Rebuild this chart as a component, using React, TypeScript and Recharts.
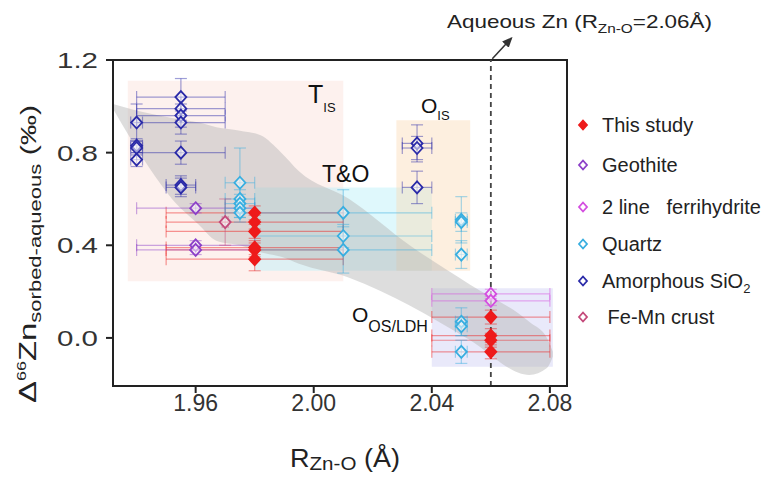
import {
  Area,
  ComposedChart,
  ErrorBar,
  ReferenceArea,
  ReferenceLine,
  Scatter,
  XAxis,
  YAxis,
} from "recharts";

const xTicks = [1.96, 2.0, 2.04, 2.08];
const yTicks = [0, 0.4, 0.8, 1.2];
const xDomain = [1.932, 2.0858];
const yDomain = [-0.2076, 1.2];

// points with x / y error half-widths
const thisStudy = [
  { x: 1.98, y: 0.54, ex: 0.03, ey: 0.03 },
  { x: 1.98, y: 0.5, ex: 0.03, ey: 0.03 },
  { x: 1.98, y: 0.46, ex: 0.03, ey: 0.03 },
  { x: 1.98, y: 0.39, ex: 0.03, ey: 0.03 },
  { x: 1.98, y: 0.38, ex: 0.03, ey: 0.03 },
  { x: 1.98, y: 0.34, ex: 0.03, ey: 0.05 },
  { x: 2.06, y: 0.09, ex: 0.02, ey: 0.03 },
  { x: 2.06, y: 0.01, ex: 0.02, ey: 0.03 },
  { x: 2.06, y: -0.01, ex: 0.02, ey: 0.03 },
  { x: 2.06, y: -0.06, ex: 0.02, ey: 0.03 },
];
const geothite = [
  { x: 1.96, y: 0.56, ex: 0.02, ey: 0.02 },
  { x: 1.96, y: 0.4, ex: 0.02, ey: 0.02 },
  { x: 1.96, y: 0.38, ex: 0.02, ey: 0.02 },
];
const ferrihydrite = [
  { x: 2.06, y: 0.19, ex: 0.02, ey: 0.02 },
  { x: 2.06, y: 0.16, ex: 0.02, ey: 0.02 },
];
const quartz = [
  { x: 1.975, y: 0.67, ex: 0.005, ey: 0.15 },
  { x: 1.975, y: 0.6, ex: 0.005, ey: 0.04 },
  { x: 1.975, y: 0.58, ex: 0.005, ey: 0.04 },
  { x: 1.975, y: 0.56, ex: 0.005, ey: 0.04 },
  { x: 1.975, y: 0.54, ex: 0.005, ey: 0.04 },
  { x: 2.01, y: 0.54, ex: 0.03, ey: 0.1 },
  { x: 2.01, y: 0.44, ex: 0.03, ey: 0.05 },
  { x: 2.01, y: 0.38, ex: 0.03, ey: 0.1 },
  { x: 2.05, y: 0.51, ex: 0.002, ey: 0.1 },
  { x: 2.05, y: 0.5, ex: 0.002, ey: 0.04 },
  { x: 2.05, y: 0.36, ex: 0.002, ey: 0.06 },
  { x: 2.05, y: 0.07, ex: 0.002, ey: 0.06 },
  { x: 2.05, y: 0.05, ex: 0.002, ey: 0.04 },
  { x: 2.05, y: -0.06, ex: 0.002, ey: 0.05 },
];
const amorphousSiO2 = [
  { x: 1.94, y: 0.93, ex: 0.002, ey: 0.08 },
  { x: 1.94, y: 0.83, ex: 0.002, ey: 0.03 },
  { x: 1.94, y: 0.82, ex: 0.002, ey: 0.03 },
  { x: 1.94, y: 0.77, ex: 0.002, ey: 0.03 },
  { x: 1.955, y: 1.04, ex: 0.015, ey: 0.08 },
  { x: 1.955, y: 0.99, ex: 0.015, ey: 0.05 },
  { x: 1.955, y: 0.96, ex: 0.015, ey: 0.05 },
  { x: 1.955, y: 0.93, ex: 0.015, ey: 0.05 },
  { x: 1.955, y: 0.8, ex: 0.015, ey: 0.05 },
  { x: 1.955, y: 0.66, ex: 0.005, ey: 0.04 },
  { x: 1.955, y: 0.65, ex: 0.005, ey: 0.04 },
  { x: 2.035, y: 0.84, ex: 0.005, ey: 0.08 },
  { x: 2.035, y: 0.82, ex: 0.005, ey: 0.05 },
  { x: 2.035, y: 0.65, ex: 0.005, ey: 0.07 },
];
const feMnCrust = [{ x: 1.97, y: 0.5, ex: 0.001, ey: 0.1 }];

// grey trend band: x, lower edge, upper edge
const bandX = [1.932, 1.944, 1.952, 1.961, 1.967, 1.975, 1.982, 1.989, 1.995, 2.012, 2.0325, 2.053, 2.073, 2.079, 2.081];
const bandLow = [0.99, 0.74, 0.6, 0.49, 0.42, 0.4, 0.37, 0.35, 0.32, 0.26, 0.14, -0.01, -0.16, -0.13, -0.08];
const bandHigh = [1.01, 0.97, 0.95, 0.93, 0.91, 0.895, 0.875, 0.8, 0.72, 0.6, 0.4, 0.23, 0.07, 0.0, -0.06];
const bandData = bandX.map((x, i) => ({ x, band: [bandLow[i], bandHigh[i]] }));

const regions = [
  { id: "tis", x1: 1.937, x2: 2.01, y1: 0.245, y2: 1.11, fill: "#f8cfc8", opacity: 0.3 },
  { id: "to", x1: 1.98, x2: 2.04, y1: 0.29, y2: 0.65, fill: "#b8f0f8", opacity: 0.45 },
  { id: "ois", x1: 2.028, x2: 2.053, y1: 0.29, y2: 0.94, fill: "#fbd8b0", opacity: 0.4 },
  { id: "oos", x1: 2.04, x2: 2.081, y1: -0.125, y2: 0.215, fill: "#d4d4f6", opacity: 0.5 },
];

const series = [
  { name: "This study", data: thisStudy, color: "#ee1b1b", filled: true },
  { name: "Geothite", data: geothite, color: "#8c40c8", filled: false },
  { name: "2 line   ferrihydrite", data: ferrihydrite, color: "#d44ee0", filled: false },
  { name: "Quartz", data: quartz, color: "#38aee0", filled: false },
  { name: "Amorphous SiO", data: amorphousSiO2, color: "#2a2aa8", filled: false },
  { name: " Fe-Mn crust", data: feMnCrust, color: "#c4497a", filled: false },
];
const legendY = [125, 165, 207, 244, 281, 317];

function Diamond({ cx, cy, color, filled, w = 5.5, h = 6 }: any) {
  if (cx == null || cy == null) return null;
  const d = `M${cx},${cy - h} L${cx + w},${cy} L${cx},${cy + h} L${cx - w},${cy} Z`;
  return (
    <path
      d={d}
      fill={filled ? color : "#ffffff"}
      fillOpacity={filled ? 1 : 0.55}
      stroke={color}
      strokeWidth={1.8}
    />
  );
}

function YTick({ x, y, payload }: any) {
  return (
    <text
      x={x - 6}
      y={y}
      dy={8}
      textAnchor="end"
      fontSize={22}
      fill="#333"
      textLength={41}
      lengthAdjust="spacingAndGlyphs"
    >
      {Number(payload.value).toFixed(1)}
    </text>
  );
}

const font = "'Liberation Sans', Arial, sans-serif";

export default function App() {
  return (
    <div
      style={{
        position: "absolute",
        left: 0,
        top: 0,
        width: 766,
        height: 479,
        background: "#fff",
        fontFamily: font,
      }}
    >
      <ComposedChart width={766} height={479} margin={{ top: 60, right: 199, bottom: 53, left: 53 }}>
        <defs>
          <marker id="arrowHead" markerWidth="8" markerHeight="8" refX="6" refY="4" orient="auto">
            <path d="M0,1 L7,4 L0,7 Z" fill="#333" />
          </marker>
        </defs>
        {regions.map((r) => (
          <ReferenceArea
            key={r.id}
            x1={r.x1}
            x2={r.x2}
            y1={r.y1}
            y2={r.y2}
            fill={r.fill}
            fillOpacity={r.opacity}
            stroke="none"
          />
        ))}
        <Area
          data={bandData}
          dataKey="band"
          type="monotone"
          fill="#b4b4b4"
          fillOpacity={0.45}
          stroke="none"
          legendType="none"
          isAnimationActive={false}
        />
        <ReferenceLine x={2.06} stroke="#444" strokeDasharray="5 4" strokeWidth={1.8} />
        {series.map((s) => (
          <Scatter
            key={s.name}
            name={s.name}
            data={s.data}
            dataKey="y"
            isAnimationActive={false}
            shape={(p: any) => <Diamond cx={p.cx} cy={p.cy} color={s.color} filled={s.filled} />}
          >
            <ErrorBar dataKey="ex" direction="x" width={6} stroke={s.color} strokeOpacity={0.45} strokeWidth={1.2} />
            <ErrorBar dataKey="ey" direction="y" width={6} stroke={s.color} strokeOpacity={0.45} strokeWidth={1.2} />
          </Scatter>
        ))}
        <ReferenceArea
          x1={xDomain[0]}
          x2={xDomain[1]}
          y1={yDomain[0]}
          y2={yDomain[1]}
          fill="none"
          stroke="#222"
          strokeWidth={2}
        />
        <ReferenceLine
          segment={[
            { x: 2.0605, y: 1.205 },
            { x: 2.067, y: 1.295 },
          ]}
          stroke="#333"
          strokeWidth={1.5}
          ifOverflow="visible"
          markerEnd="url(#arrowHead)"
        />
        <XAxis
          type="number"
          dataKey="x"
          domain={xDomain}
          ticks={xTicks}
          allowDataOverflow
          tickFormatter={(v: number) => v.toFixed(2)}
          height={40}
          tickSize={7}
          tick={{ fontSize: 23, fill: "#333" }}
          axisLine={{ stroke: "#222", strokeWidth: 2 }}
          tickLine={{ stroke: "#222", strokeWidth: 2 }}
        />
        <YAxis
          type="number"
          dataKey="y"
          domain={yDomain}
          ticks={yTicks}
          allowDataOverflow
          width={60}
          tickSize={7}
          tick={<YTick />}
          axisLine={{ stroke: "#222", strokeWidth: 2 }}
          tickLine={{ stroke: "#222", strokeWidth: 2 }}
        />
      </ComposedChart>
      <svg
        width={766}
        height={479}
        style={{ position: "absolute", left: 0, top: 0, pointerEvents: "none", fontFamily: font }}
      >
        {/* region labels */}
        <text x={308} y={103} fontSize={25} fill="#111">
          T<tspan fontSize={13} dy={9}>IS</tspan>
        </text>
        <text x={322} y={182} fontSize={23} fill="#111">
          T&amp;O
        </text>
        <text x={421} y={113} fontSize={21} fill="#111">
          O<tspan fontSize={13} dy={7}>IS</tspan>
        </text>
        <text x={352} y={322} fontSize={21} fill="#111">
          O<tspan fontSize={16} dy={10}>OS/LDH</tspan>
        </text>
        {/* top annotation */}
        <text x={447} y={28} fontSize={19} fill="#222" textLength={265} lengthAdjust="spacingAndGlyphs">
          Aqueous Zn (R<tspan fontSize={13} dy={5}>Zn-O</tspan>
          <tspan dy={-5}>=2.06Å)</tspan>
        </text>
        {/* axis titles */}
        <text x={290} y={467} fontSize={25} fill="#222" textLength={110} lengthAdjust="spacingAndGlyphs">
          R<tspan fontSize={19} dy={3}>Zn-O</tspan>
          <tspan dy={-3}> (Å)</tspan>
        </text>
        <text
          transform="translate(36,403) rotate(-90)"
          fontSize={24}
          fill="#222"
          textLength={298}
          lengthAdjust="spacingAndGlyphs"
        >
          Δ<tspan fontSize={13} dy={-10}>66</tspan>
          <tspan dy={10}>Zn</tspan>
          <tspan fontSize={16} dy={5}>sorbed-aqueous</tspan>
          <tspan fontSize={22} dy={-5}> (‰)</tspan>
        </text>
        {/* legend */}
        {series.map((s, i) => (
          <g key={s.name}>
            <Diamond cx={583} cy={legendY[i]} color={s.color} filled={s.filled} w={4} h={4.5} />
            <text x={602} y={legendY[i] + 7} fontSize={20} fill="#222" style={{ whiteSpace: "pre" }}>
              {s.name}
              {s.name === "Amorphous SiO" ? (
                <tspan fontSize={13} dy={5}>
                  2
                </tspan>
              ) : null}
            </text>
          </g>
        ))}
      </svg>
    </div>
  );
}
